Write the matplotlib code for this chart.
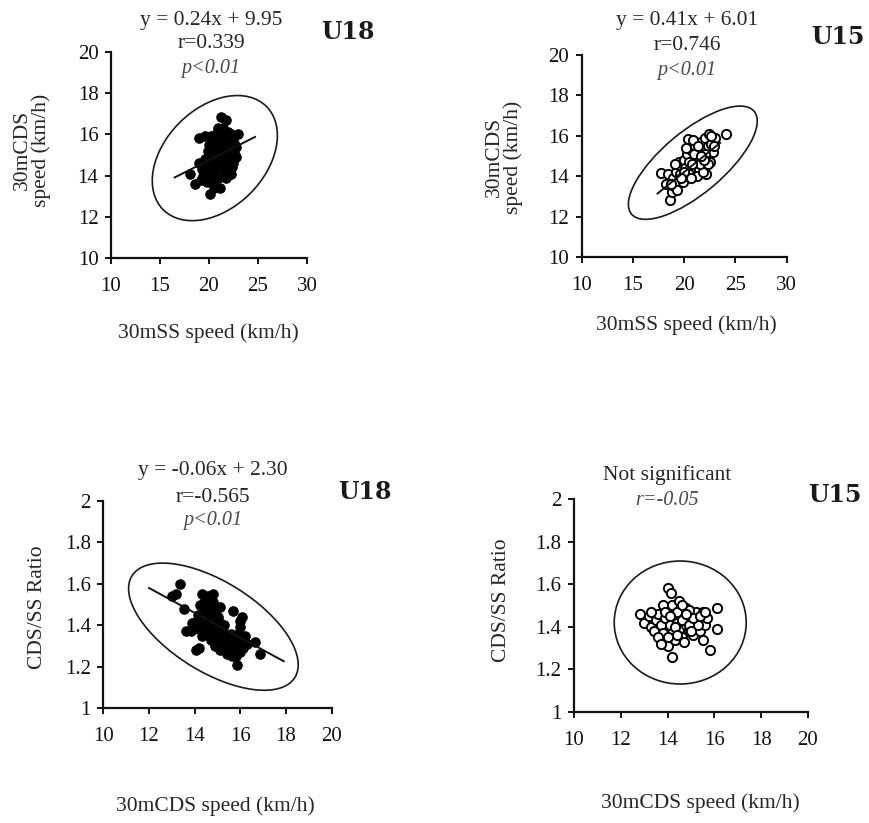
import matplotlib
matplotlib.use("Agg")
import matplotlib.pyplot as plt
from matplotlib.patches import Ellipse
from matplotlib.transforms import ScaledTranslation
import numpy as np

plt.rcParams["font.family"] = ["Liberation Serif", "DejaVu Serif"]

# U18, 30mSS speed vs 30mCDS speed (km/h)
u18_ss = [21.2, 21.7, 19.0, 19.6, 20.2, 20.6, 21.0, 21.4, 21.9, 22.3, 23.0, 20.0, 20.4, 20.8,
          21.2, 21.6, 22.0, 22.4, 22.7, 20.1, 20.5, 20.9, 21.3, 21.7, 22.1, 22.5, 22.8, 20.0,
          20.4, 20.8, 21.2, 21.6, 22.0, 22.4, 19.7, 19.4, 19.0, 18.6, 18.1, 19.2, 19.8, 20.1,
          20.5, 21.1, 20.3, 21.5, 21.9, 20.6, 21.0, 22.2, 19.9, 20.2, 21.4, 22.6, 20.7, 19.6, 21.8,
          20.3, 20.6, 21.0, 21.4, 21.8, 22.2, 21.9, 20.9, 20.4, 19.5, 22.8, 21.6, 20.9, 21.1,
          20.2, 22.3, 19.3, 21.7]
u18_cds = [16.85, 16.7, 15.85, 15.9, 15.9, 15.7, 16.2, 16.3, 16.1, 16.0, 16.0, 15.5, 15.3, 15.6,
           15.8, 15.5, 15.3, 15.2, 15.0, 15.0, 14.9, 15.1, 15.0, 14.8, 14.7, 14.6, 14.9, 14.6,
           14.4, 14.3, 14.5, 14.2, 14.3, 14.4, 14.2, 14.0, 14.6, 13.6, 14.1, 13.8, 13.7, 13.1,
           13.4, 13.4, 15.7, 15.0, 15.7, 14.7, 14.9, 15.5, 15.2, 14.0, 14.6, 15.6, 16.0, 14.8, 15.2,
           15.0, 15.2, 15.4, 15.6, 15.9, 14.9, 14.5, 13.9, 13.8, 13.9, 15.4, 16.0, 16.3, 14.7,
           14.7, 14.1, 14.3, 13.9]

# U15, 30mSS speed vs 30mCDS speed (km/h)
u15_ss = [17.7, 18.4, 18.6, 18.8, 19.0, 18.9, 19.2, 19.5, 19.8, 19.4, 19.9, 20.2, 20.0, 20.3,
          20.4, 20.6, 20.8, 20.7, 21.0, 21.1, 21.3, 21.4, 21.6, 21.7, 21.9, 22.0, 22.1, 22.2,
          22.3, 22.4, 22.6, 22.8, 23.0, 24.1, 20.1, 20.5, 21.2, 21.8, 19.6, 20.9, 22.5, 19.1,
          18.2, 21.5, 20.2, 20.0, 20.5, 21.0, 21.5, 22.0, 22.3, 19.7, 20.7, 21.3, 21.9, 19.3,
          18.7, 22.6, 22.9, 20.8, 21.6]
u15_cds = [14.15, 14.1, 12.8, 13.2, 13.5, 13.9, 14.2, 14.7, 14.4, 13.7, 13.7, 14.0, 14.8, 15.1,
           15.85, 14.5, 14.2, 15.3, 14.8, 15.5, 15.0, 14.3, 15.7, 14.6, 15.2, 15.9, 14.1, 14.9,
           15.5, 16.1, 15.6, 15.2, 15.9, 16.1, 14.4, 14.1, 14.0, 14.2, 14.1, 15.8, 14.7, 14.6,
           13.6, 15.3, 15.4, 14.2, 14.7, 15.1, 14.6, 15.1, 14.6, 13.9, 13.9, 15.5, 14.8, 13.3,
           13.6, 16.0, 15.5, 14.6, 15.0]

# U18, 30mCDS speed vs CDS/SS ratio
u18_cds2 = [13.36, 13.0, 13.2, 13.55, 13.6, 13.85, 14.0, 14.1, 14.2, 14.05, 14.2, 14.3, 14.45,
            14.4, 14.6, 14.8, 14.9, 15.1, 14.3, 14.5, 14.7, 14.9, 15.0, 14.4, 14.6, 14.8, 15.0,
            14.3, 14.7, 14.9, 15.1, 15.3, 15.4, 15.5, 15.6, 15.7, 15.8, 15.9, 15.5, 15.7, 15.9,
            16.1, 16.2, 15.6, 15.8, 15.85, 16.0, 15.4, 15.2, 16.06, 15.69, 16.0, 16.2, 16.64,
            16.86, 15.3, 14.6, 14.15, 15.0, 16.3, 15.1, 14.5, 14.25, 14.5, 14.7, 14.9, 15.1,
            14.55, 14.35, 15.2, 15.45, 15.65, 15.9, 16.1, 15.8, 15.35, 14.75, 13.9, 15.55,
            16.0, 14.8]
u18_ratio = [1.60, 1.54, 1.55, 1.48, 1.37, 1.37, 1.40, 1.42, 1.38, 1.28, 1.29, 1.55, 1.52,
             1.48, 1.54, 1.51, 1.47, 1.49, 1.45, 1.44, 1.46, 1.42, 1.44, 1.40, 1.39, 1.38, 1.36,
             1.35, 1.33, 1.30, 1.34, 1.32, 1.30, 1.27, 1.29, 1.31, 1.28, 1.30, 1.34, 1.34, 1.33,
             1.32, 1.35, 1.36, 1.25, 1.21, 1.27, 1.26, 1.37, 1.44, 1.47, 1.39, 1.31, 1.32,
             1.26, 1.40, 1.50, 1.45, 1.32, 1.31, 1.28, 1.36, 1.50, 1.47, 1.50, 1.45, 1.41,
             1.42, 1.38, 1.30, 1.33, 1.25, 1.36, 1.29, 1.32, 1.36, 1.36, 1.41, 1.30,
             1.42, 1.55]

# U15, 30mCDS speed vs CDS/SS ratio
u15_cds2 = [12.8, 13.0, 13.2, 13.3, 13.4, 13.5, 13.6, 13.7, 13.8, 13.8, 13.9, 13.9, 14.0, 14.0,
            14.0, 14.1, 14.15, 14.2, 14.2, 14.2, 14.3, 14.3, 14.4, 14.5, 14.5, 14.6, 14.6, 14.7,
            14.7, 14.8, 14.8, 14.9, 15.0, 15.0, 15.1, 15.2, 15.2, 15.3, 15.4, 15.5, 15.5, 15.6,
            15.7, 15.8, 16.1, 16.1, 13.6, 14.9, 15.3, 14.4, 13.3, 13.9, 14.3, 14.6, 14.9, 15.1,
            14.1, 14.4, 14.8, 15.4, 14.0, 13.7, 15.0, 14.6, 15.6]
u15_ratio = [1.46, 1.42, 1.45, 1.40, 1.38, 1.43, 1.46, 1.41, 1.50, 1.37, 1.44, 1.33, 1.58, 1.47,
             1.31, 1.41, 1.56, 1.50, 1.37, 1.26, 1.45, 1.34, 1.42, 1.52, 1.39, 1.47, 1.35, 1.44,
             1.33, 1.49, 1.41, 1.38, 1.46, 1.43, 1.36, 1.47, 1.40, 1.44, 1.38, 1.47, 1.34, 1.41,
             1.44, 1.29, 1.49, 1.39, 1.35, 1.48, 1.41, 1.47, 1.47, 1.47, 1.40, 1.43, 1.41, 1.44,
             1.45, 1.36, 1.46, 1.45, 1.35, 1.32, 1.38, 1.50, 1.47]

# fitted lines: slope, intercept, x range drawn
fit_u18_top = (0.24, 9.95, 16.5, 24.7)
fit_u15_top = (0.41, 6.01, 17.4, 23.5)
fit_u18_bot = (-0.06, 2.30, 12.0, 17.9)

fig = plt.figure(figsize=(8.69, 8.23), dpi=100)

TXT = "#262626"
PTXT = "#4a4a4a"


def style_axes(ax, xlim, ylim, xticks, yticks):
    ax.set_xlim(*xlim)
    ax.set_ylim(*ylim)
    ax.set_xticks(xticks)
    ax.set_yticks(yticks)
    ax.set_yticklabels([f"{v:g}" for v in yticks])
    for s in ("top", "right"):
        ax.spines[s].set_visible(False)
    for s in ("left", "bottom"):
        ax.spines[s].set_linewidth(1.6)
        ax.spines[s].set_color("#111111")
    ax.tick_params(axis="both", direction="out", length=4, width=1.4, labelsize=15,
                   colors="#111111")
    ax.tick_params(axis="x", pad=10)
    ax.tick_params(axis="y", pad=5)
    ax.patch.set_alpha(0)


def draw_ellipse(ax, cx, cy, a_px, b_px, angle):
    trans = fig.dpi_scale_trans + ScaledTranslation(cx, cy, ax.transData)
    e = Ellipse((0, 0), 2 * a_px / 100, 2 * b_px / 100, angle=angle, transform=trans,
                fill=False, edgecolor="#1a1a1a", linewidth=1.2, clip_on=False)
    ax.add_patch(e)


def draw_fit(ax, fit):
    k, b, x0, x1 = fit
    xs = np.array([x0, x1])
    ax.plot(xs, k * xs + b, color="#111111", linewidth=1.4, zorder=4)


filled = dict(s=46, facecolor="black", edgecolor="black", linewidths=0.8, zorder=3)
hollow = dict(s=44, facecolor="white", edgecolor="black", linewidths=1.4, zorder=3)

# top left: U18 sprint speeds
ax1 = fig.add_axes([0.1277, 0.6865, 0.2255, 0.2503])
style_axes(ax1, (10, 30), (10, 20), [10, 15, 20, 25, 30], [10, 12, 14, 16, 18, 20])
draw_ellipse(ax1, 20.6, 14.85, 73, 50, 45)
ax1.scatter(u18_ss, u18_cds, **filled)
draw_fit(ax1, fit_u18_top)

# top right: U15 sprint speeds
ax2 = fig.add_axes([0.6694, 0.6877, 0.2359, 0.2454])
style_axes(ax2, (10, 30), (10, 20), [10, 15, 20, 25, 30], [10, 12, 14, 16, 18, 20])
draw_ellipse(ax2, 20.84, 14.67, 80, 31, 40)
ax2.scatter(u15_ss, u15_cds, **hollow)
draw_fit(ax2, fit_u15_top)

# bottom left: U18 ratio
ax3 = fig.add_axes([0.1189, 0.1397, 0.2628, 0.2515])
style_axes(ax3, (10, 20), (1, 2), [10, 12, 14, 16, 18, 20], [1, 1.2, 1.4, 1.6, 1.8, 2])
draw_ellipse(ax3, 14.82, 1.393, 96, 45, -32)
ax3.scatter(u18_cds2, u18_ratio, **filled)
draw_fit(ax3, fit_u18_bot)

# bottom right: U15 ratio
ax4 = fig.add_axes([0.6605, 0.1349, 0.2693, 0.2588])
style_axes(ax4, (10, 20), (1, 2), [10, 12, 14, 16, 18, 20], [1, 1.2, 1.4, 1.6, 1.8, 2])
draw_ellipse(ax4, 14.54, 1.42, 66, 61.5, 0)
ax4.scatter(u15_cds2, u15_ratio, **hollow)


def fig_text(x, y, s, **kw):
    fig.text(x / 869, 1 - y / 823, s, ha="center", va="center", **kw)


# equations and correlation notes
eq = dict(fontsize=15.5, color=TXT)
pv = dict(fontsize=14.5, color=PTXT, style="italic")
fig_text(211, 20, "y = 0.24x + 9.95", **eq)
fig_text(211, 44, "r=0.339", **eq)
fig_text(211, 69, "p<0.01", **pv)

fig_text(687, 21, "y = 0.41x + 6.01", **eq)
fig_text(687, 46, "r=0.746", **eq)
fig_text(687, 71, "p<0.01", **pv)

fig_text(213, 471, "y = -0.06x + 2.30", **eq)
fig_text(213, 497, "r=-0.565", **eq)
fig_text(213, 521, "p<0.01", **pv)

fig_text(667, 475, "Not significant", **eq)
fig_text(667, 500, "r=-0.05", **pv)

# group tags
tag = dict(fontsize=17, fontweight="bold", color="#1a1a1a", family="DejaVu Serif")
fig_text(348, 32, "U18", **tag)
fig_text(838, 37, "U15", **tag)
fig_text(365, 492, "U18", **tag)
fig_text(835, 495, "U15", **tag)

# axis titles
lab = dict(fontsize=15.5, color=TXT)
fig_text(32, 150, "30mCDS\nspeed (km/h)", rotation=90, linespacing=1.0, **lab)
fig_text(504, 157, "30mCDS\nspeed (km/h)", rotation=90, linespacing=1.0, **lab)
fig_text(37, 607, "CDS/SS Ratio", rotation=90, **lab)
fig_text(502, 600, "CDS/SS Ratio", rotation=90, **lab)

fig_text(208, 333, "30mSS speed (km/h)", **lab)
fig_text(686, 325, "30mSS speed (km/h)", **lab)
fig_text(215, 806, "30mCDS speed (km/h)", **lab)
fig_text(700, 803, "30mCDS speed (km/h)", **lab)

fig.savefig("out.png", dpi=100, facecolor="white")
